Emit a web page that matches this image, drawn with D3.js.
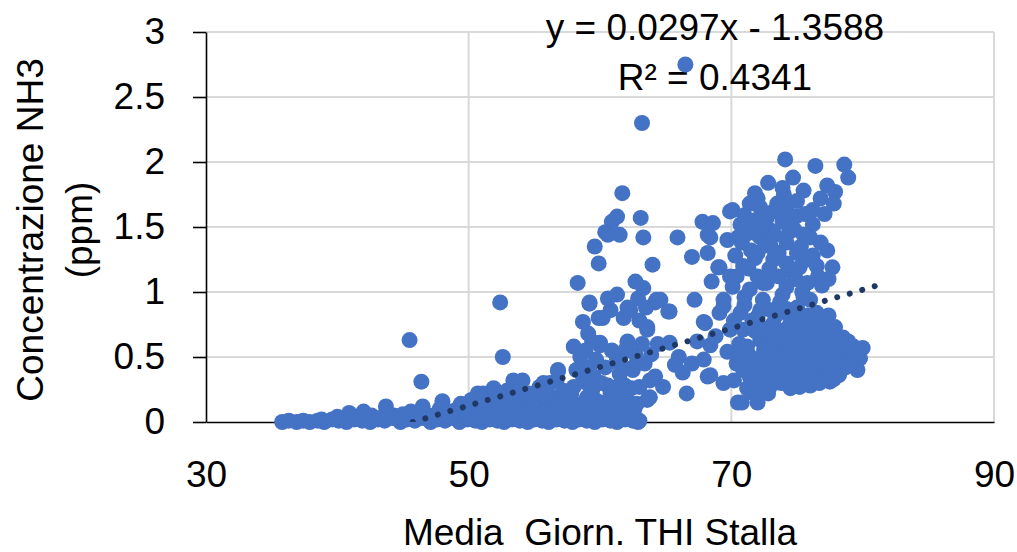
<!DOCTYPE html>
<html>
<head>
<meta charset="utf-8">
<script src="https://cdn.jsdelivr.net/npm/d3@7"></script>
<style>
  body { margin: 0; background: #fff; }
  svg text { font-family: "Liberation Sans", Arial, sans-serif; fill: #000; }
</style>
</head>
<body>
<svg id="chart" width="1017" height="552"></svg>
<script>
// Daily mean barn THI vs NH3 concentration, [THI, ppm]
const coolDays = [
  [35.8,0.00],[36.3,0.01],[36.9,0.00],[37.4,0.01],[37.9,0.00],[38.5,0.01],[38.8,0.02],[39.0,0.00],
  [39.6,0.02],[40.1,0.01],[40.7,0.00],[41.3,0.02],[41.9,0.01],[42.5,0.00],[43.1,0.02],[43.6,0.01],
  [44.2,0.03],[44.8,0.00],[45.3,0.02],[45.9,0.01],[46.5,0.03],[47.1,0.00],[47.6,0.02],[48.2,0.01],
  [48.8,0.03],[49.3,0.00],[49.9,0.02],[50.5,0.01],[51.0,0.00],[51.6,0.02],[52.2,0.01],[52.7,0.00],
  [53.3,0.02],[53.9,0.01],[54.5,0.00],[55.0,0.02],[55.6,0.01],[56.1,0.00],[56.7,0.02],[57.3,0.01],
  [57.9,0.00],[58.4,0.02],[59.0,0.01],[59.6,0.00],[60.2,0.02],[60.8,0.01],[61.3,0.00],[61.9,0.02],
  [62.5,0.01],[62.9,0.00],[63.0,0.01]
];
const mildDays = [
  [40.0,0.04],[40.9,0.07],[41.6,0.04],[42.0,0.08],[42.6,0.05],[43.2,0.03],[43.7,0.12],[44.3,0.05],
  [45.0,0.06],[45.6,0.08],[46.0,0.04],[46.5,0.12],[47.3,0.05],[47.8,0.10],[48.0,0.16],[48.6,0.08],
  [49.0,0.09],[49.4,0.14],[49.8,0.06],[50.2,0.17],[50.7,0.22],[50.9,0.10],[51.1,0.22],[51.5,0.15],
  [51.8,0.07],[52.2,0.19],[52.6,0.12],[52.9,0.24],[53.1,0.05],[53.4,0.32],[53.7,0.22],[54.0,0.09],
  [54.1,0.32],[54.4,0.17],[54.8,0.13],[55.3,0.06],[55.4,0.27],[55.7,0.30],[56.0,0.11],[56.2,0.30],
  [56.5,0.19],[56.7,0.32],[57.0,0.15],[57.5,0.08],[57.8,0.21],[58.0,0.27],[58.3,0.12],[58.9,0.06],
  [59.0,0.19],[59.4,0.24],[59.5,0.09],[59.5,0.35],[60.0,0.11],[60.5,0.15],[60.8,0.22],[61.0,0.07],
  [61.3,0.19],[61.8,0.12],[62.3,0.05],[62.5,0.09],[62.6,0.09],[63.0,0.27],[63.6,0.17],[63.8,0.19],
  [63.8,0.32],[45.5,0.63],[46.4,0.31],[52.4,0.92],[52.6,0.50],
  [50.0,0.04],[50.6,0.08],[51.3,0.05],[52.0,0.10],[52.4,0.04],[53.0,0.14],[53.6,0.08],[54.3,0.05],
  [54.6,0.22],[55.1,0.16],[55.8,0.08],[56.3,0.05],[56.9,0.10],[57.2,0.24],[57.6,0.15],[58.1,0.05],
  [58.7,0.14],[59.2,0.04],[59.8,0.16],[60.3,0.06],[60.6,0.28],[61.1,0.13],[61.6,0.05],[62.0,0.18],
  [62.4,0.26],[62.8,0.14],[61.6,0.30],[55.9,0.22],[53.3,0.18],[51.9,0.26],[49.6,0.10],[48.3,0.04]
];
const springDays = [
  [56.8,0.40],[56.8,0.39],[58.0,0.58],[58.5,0.50],[58.7,0.77],[59.2,0.91],[59.1,0.68],[60.0,0.61],
  [60.2,0.80],[61.8,0.80],[62.3,0.86],[63.6,0.73],[64.2,0.92],[62.1,0.61],[62.5,0.42],[61.3,0.48],
  [59.2,0.42],[58.7,0.35],[60.4,0.42],[61.3,0.50],[61.5,0.37],[62.5,0.40],[60.5,0.15],[63.0,0.78],
  [60.0,0.59],[60.8,0.86],[62.1,0.88],[59.9,0.80],[60.6,0.95],[61.3,0.98],[59.2,0.92],[58.3,1.07],
  [62.7,1.08],[63.3,1.03],[64.3,0.94],[65.2,0.85],[62.1,0.62],[65.3,0.61],[64.2,0.35],[64.8,0.27],
  [63.6,0.71],[59.6,1.35],[59.9,1.22],[60.6,1.44],[61.5,1.44],[60.4,1.46],[60.9,1.54],[61.3,1.58],
  [61.7,1.76],[63.1,1.57],[63.3,1.42],[64.0,1.21],[65.9,1.42],[63.2,2.30],[66.5,2.75],
  [58.2,0.40],[58.9,0.55],[59.4,0.62],[59.7,0.48],[60.9,0.55],[61.6,0.42],[61.9,0.55],[62.7,0.52],
  [63.2,0.60],[63.4,0.45],[63.9,0.52],[64.4,0.60],[60.1,0.30],[61.9,0.28],[59.0,0.30],[63.5,0.88],
  [62.9,0.95]
];
const warmDays = [
  [67.0,1.27],[68.2,1.30],[68.2,1.44],[68.5,1.08],[67.2,0.94],[67.9,0.77],[68.4,0.59],[67.0,0.45],
  [65.7,0.44],[66.6,0.22],[68.2,0.35],[69.4,0.30],[70.5,0.15],[67.8,1.54],[68.6,1.53],[68.4,1.42],
  [69.0,1.19],[69.9,1.62],[69.7,1.40],[65.3,0.85],[69.4,0.89],[69.1,1.19],[69.9,1.12],[68.0,0.76],
  [67.9,0.48],[68.4,0.36],[69.1,0.84],[69.4,0.94],[69.7,0.54],[69.9,0.71],[70.4,0.45],[64.6,0.94],
  [66.0,0.50],[66.3,0.38],[67.4,0.62],[68.8,0.66]
];
const hotDaysHigh = [
  [74.1,2.02],[76.4,1.97],[78.6,1.98],[78.9,1.88],[74.7,1.88],[72.8,1.84],[73.9,1.80],[75.5,1.78],
  [77.3,1.82],[77.9,1.77],[77.8,1.68],[71.8,1.76],[70.1,1.63],[71.4,1.68],[72.2,1.65],[73.5,1.68],
  [74.2,1.65],[76.2,1.63],[76.8,1.72],[71.0,1.59],[70.7,1.52],[71.7,1.55],[72.7,1.57],[73.9,1.54],
  [76.2,1.52],[70.5,1.42],[72.2,1.42],[72.9,1.48],[75.5,1.44],[70.8,1.38],[74.2,1.38],[77.3,1.32],
  [75.0,1.30],[76.2,1.28],[71.8,1.26],[73.2,1.25],[74.2,1.22],[75.2,1.19],[71.3,1.18],[77.7,1.19],
  [76.6,1.12],[75.8,1.07],[72.4,1.07],[74.2,1.04],[70.1,1.04],[71.4,1.02],[72.7,1.07],[71.0,0.96],
  [73.0,1.35],[74.8,1.48],[75.8,1.25],[72.0,1.30],[73.6,1.12],[76.8,1.38],[70.3,1.28],[74.9,1.10],
  [73.2,1.62],[75.0,1.70],
  [70.4,1.12],[70.9,1.20],[71.5,1.32],[71.9,1.45],[72.4,1.52],[72.6,1.36],[72.9,1.18],[73.3,1.44],
  [73.6,1.30],[73.8,1.60],[74.4,1.46],[74.6,1.15],[74.9,1.58],[75.3,1.35],[75.6,1.60],[76.0,1.42],
  [76.5,1.20],[76.9,1.05],[77.4,1.10],[75.4,1.00],[73.9,0.98],[72.0,1.12],[71.2,1.45],[77.1,1.60],
  [74.0,1.75],[72.0,1.72]
];
const hotDaysLow = [
  [75.5,0.96],[76.0,0.94],[76.5,0.84],[77.4,0.82],[77.9,0.73],[78.5,0.65],[79.3,0.58],[80.0,0.57],
  [79.8,0.49],[79.6,0.40],[78.3,0.44],[77.5,0.31],[76.5,0.35],[75.2,0.27],[74.2,0.32],[73.2,0.36],
  [72.7,0.48],[73.9,0.58],[75.2,0.63],[76.5,0.58],[77.8,0.55],[78.8,0.53],[72.2,0.63],[71.2,0.58],
  [70.9,0.71],[72.0,0.81],[73.2,0.76],[74.5,0.81],[75.2,0.76],[73.7,0.92],[72.4,0.94],[70.7,0.84],
  [73.7,0.45],[74.7,0.45],[76.0,0.45],[77.3,0.45],[75.5,0.35],[73.9,0.38],[72.7,0.40],[71.7,0.22],
  [70.8,0.15],[72.0,0.15],[72.0,0.27],[71.4,0.35],[74.0,0.70],[74.8,0.55],[76.0,0.68],[76.9,0.62],
  [77.0,0.74],[78.0,0.62],[79.0,0.45],[78.9,0.62],[73.5,0.52],[72.5,0.56],[71.5,0.47],[71.8,0.70],
  [73.0,0.66],[74.5,0.62],[75.7,0.52],[76.8,0.50],[74.2,0.87],[75.0,0.88],[73.0,0.86],[71.0,0.90],
  [76.3,0.74],[72.3,0.30],[74.8,0.30],[76.0,0.28],[78.2,0.36],[77.0,0.40],[75.0,0.42],[72.8,0.22],
  [70.6,0.60],[79.5,0.52],[78.5,0.50],
  [70.2,0.32],[70.9,0.40],[71.3,0.52],[71.9,0.40],[72.1,0.49],[72.6,0.72],[72.9,0.60],[73.3,0.44],
  [73.6,0.65],[73.8,0.30],[74.1,0.50],[74.3,0.40],[74.4,0.74],[74.6,0.67],[74.9,0.36],[75.1,0.50],
  [75.3,0.58],[75.4,0.70],[75.6,0.44],[75.9,0.60],[76.1,0.38],[76.2,0.52],[76.4,0.64],[76.6,0.44],
  [76.7,0.30],[77.1,0.56],[77.2,0.66],[77.6,0.38],[77.7,0.48],[78.1,0.56],[78.4,0.58],[78.7,0.42],
  [79.1,0.55],[73.4,0.82],[72.2,0.86],[71.6,0.78],[74.9,0.80],[75.8,0.82],[76.8,0.78],[73.1,0.55],
  [72.4,0.38],[70.5,0.52],[70.2,0.78],[71.2,0.26],[73.0,0.28],[74.5,0.26],[75.9,0.33],[77.8,0.33]
];

const xTicks = [30, 50, 70, 90];
const yTicks = [0, 0.5, 1, 1.5, 2, 2.5, 3];
const trend = { slope: 0.0297, intercept: -1.3588, r2: 0.4341 };
const trendSpan = [35.8, 81.6];
const xTitle = "Media  Giorn. THI Stalla";
const yTitle = ["Concentrazione NH3", "(ppm)"];

const readings = [].concat(coolDays, mildDays, springDays, warmDays, hotDaysHigh, hotDaysLow);

const plot = { left: 206, right: 994, top: 32, bottom: 422 };
const fontSize = 37;

const svg = d3.select("#chart");
const x = d3.scaleLinear().domain([30, 90]).range([plot.left, plot.right]);
const y = d3.scaleLinear().domain([0, 3]).range([plot.bottom, plot.top]);

// gridlines
const grid = svg.append("g").attr("stroke", "#d9d9d9").attr("stroke-width", 2);
grid.selectAll("line.h").data(yTicks.filter(d => d > 0)).join("line")
  .attr("x1", plot.left).attr("x2", plot.right)
  .attr("y1", d => y(d)).attr("y2", d => y(d));
grid.selectAll("line.v").data(xTicks.filter(d => d > 30)).join("line")
  .attr("y1", plot.top).attr("y2", plot.bottom)
  .attr("x1", d => x(d)).attr("x2", d => x(d));

// axes
const yAxis = d3.axisLeft(y).tickValues(yTicks).tickFormat(d3.format("~g"))
  .tickSize(13).tickSizeOuter(0).tickPadding(28);
const gy = svg.append("g").attr("transform", `translate(${plot.left},0)`).call(yAxis);
const xAxis = d3.axisBottom(x).tickValues(xTicks).tickFormat(d3.format("d"))
  .tickSize(0).tickSizeOuter(0).tickPadding(39);
const gx = svg.append("g").attr("transform", `translate(0,${plot.bottom})`).call(xAxis);
[gx, gy].forEach(g => {
  g.select(".domain").attr("stroke", "#000").attr("stroke-width", 1.6);
  g.selectAll(".tick line").attr("stroke", "#000").attr("stroke-width", 1.6);
  g.selectAll(".tick text").attr("font-size", fontSize).attr("fill", "#000")
    .style("font-family", '"Liberation Sans", Arial, sans-serif');
});

// axis titles
svg.append("text").attr("x", (plot.left + plot.right) / 2).attr("y", 545)
  .attr("text-anchor", "middle").attr("font-size", fontSize)
  .style("white-space", "pre").text(xTitle);
yTitle.forEach((t, i) => {
  svg.append("text")
    .attr("transform", `translate(${43 + i * 49},${(plot.top + plot.bottom) / 2 + 3}) rotate(-90)`)
    .attr("text-anchor", "middle").attr("font-size", fontSize).text(t);
});

// trendline equation
svg.append("text").attr("x", 715).attr("y", 40).attr("text-anchor", "middle")
  .attr("font-size", fontSize)
  .text(`y = ${trend.slope}x - ${Math.abs(trend.intercept)}`);
svg.append("text").attr("x", 715).attr("y", 90).attr("text-anchor", "middle")
  .attr("font-size", fontSize).text(`R² = ${trend.r2}`);

// scatter markers
svg.append("g").selectAll("circle").data(readings).join("circle")
  .attr("cx", d => x(d[0])).attr("cy", d => y(d[1])).attr("r", 8)
  .attr("fill", "#4472c4");

// linear trendline drawn over the markers, clipped to the plot area
svg.append("clipPath").attr("id", "plotClip").append("rect")
  .attr("x", plot.left).attr("y", plot.top)
  .attr("width", plot.right - plot.left).attr("height", plot.bottom - plot.top);
const x0 = Math.max(trendSpan[0], -trend.intercept / trend.slope);
const trendPts = [x0, trendSpan[1]].map(v => [v, trend.slope * v + trend.intercept]);
svg.append("path").datum(trendPts)
  .attr("clip-path", "url(#plotClip)")
  .attr("d", d3.line().x(d => x(d[0])).y(d => y(d[1])))
  .attr("fill", "none").attr("stroke", "#1f3864").attr("stroke-width", 6)
  .attr("stroke-linecap", "round").attr("stroke-dasharray", "0.01 13");
</script>
</body>
</html>
